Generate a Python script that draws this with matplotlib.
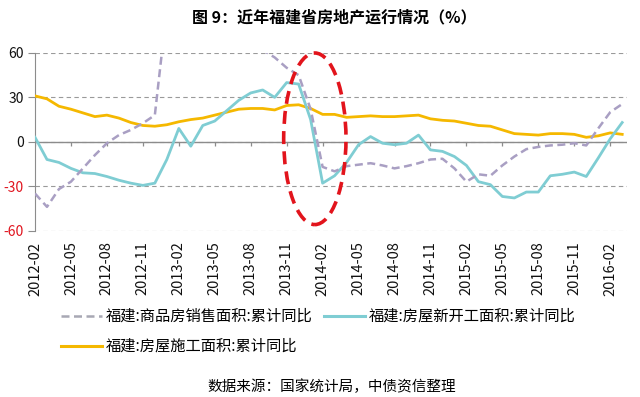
import numpy as np
import matplotlib
matplotlib.use("Agg")
import matplotlib.pyplot as plt
from matplotlib.patches import Ellipse
from matplotlib.lines import Line2D

plt.rcParams['font.family'] = ['Noto Sans CJK SC', 'DejaVu Sans']

# monthly points, 2012-02 .. 2016-03 (%)
sales_area = [-35, -44, -32, -27, -18, -9, -1, 4.5, 8, 12.5,
              18, 90, 100, 105, 98, 92, 85, 78, 72, 62,
              57, 50, 45, 22, -17, -20, -16.5, -15.5, -14.5, -16,
              -18, -16.5, -14.5, -12, -11.5, -18, -27, -22, -23, -16,
              -10, -5, -3.5, -2.5, -2, -1, -2.5, 9, 20, 25.5]
new_start = [3, -12, -14, -18, -21, -21.5, -23.5, -26, -28, -29.5,
             -28, -12, 9, -3, 11, 14, 21, 28, 33, 35,
             30, 40, 39, 15, -28, -23, -14, -2, 3.5, -1,
             -2, -1, 4.5, -5.5, -6.5, -10, -16, -27, -29, -37,
             -38, -34, -34, -23, -22, -20.5, -23.5, -11, 2, 13]
under_constr = [31, 29, 24, 22, 19.5, 17, 18, 16, 13, 11,
                10.5, 11.5, 13.5, 15, 16, 18, 20, 22, 22.5, 22.5,
                21.5, 24.5, 25, 22.5, 18.5, 18.5, 16.5, 17, 17.5, 17,
                17, 17.5, 18, 15.5, 14.5, 14, 12.5, 11, 10.5, 8,
                5.5, 5, 4.5, 5.5, 5.5, 5, 3, 4, 6, 5]

tick_labels = ['2012-02', '2012-05', '2012-08', '2012-11', '2013-02', '2013-05',
               '2013-08', '2013-11', '2014-02', '2014-05', '2014-08', '2014-11',
               '2015-02', '2015-05', '2015-08', '2015-11', '2016-02']
y_ticks = [-60, -30, 0, 30, 60]
y_labels = ['-60', '-30', '0', '30', '60']

names = ['福建:商品房销售面积:累计同比', '福建:房屋新开工面积:累计同比', '福建:房屋施工面积:累计同比']
c_sales, c_new, c_cons = '#A99FC3', '#7FCDD3', '#F5B800'

x = np.arange(len(sales_area))
tick_pos = np.arange(len(tick_labels)) * 3

fig = plt.figure(figsize=(6.4, 3.97), dpi=100)
ax = fig.add_axes([35 / 640, 1 - 230.5 / 397, 592 / 640, 177.5 / 397])

ax.plot(x, under_constr, color=c_cons, lw=2.0, zorder=3)
ax.plot(x, new_start, color=c_new, lw=2.0, zorder=4)
ax.plot(x, sales_area, color=c_sales, lw=1.8, linestyle=(0, (3.2, 1.8)), zorder=5)

ax.set_xlim(0, 49.4)
ax.set_ylim(-60, 60)

# grid and axis look
ax.set_yticks(y_ticks)
ax.set_yticklabels(y_labels, fontsize=10)
for lab, v in zip(ax.get_yticklabels(), y_ticks):
    lab.set_color('#E0141E' if v < 0 else '#111111')
ax.tick_params(axis='y', length=5, color='#8c8c8c', pad=3)
ax.yaxis.grid(True, linestyle=(0, (4, 3)), color='#9a9a9a', lw=0.8)
ax.axhline(0, color='#8c8c8c', lw=1.0, zorder=2)
ax.vlines(tick_pos, -2.6, 0, color='#8c8c8c', lw=0.9, zorder=2)
for s in ['top', 'right', 'bottom']:
    ax.spines[s].set_visible(False)
ax.spines['left'].set_color('#8c8c8c')

ax.set_xticks(tick_pos)
ax.set_xticklabels(tick_labels, rotation=90, fontsize=10.5, color='#111111')
ax.tick_params(axis='x', length=0, pad=8)

# highlight ellipse
ax.add_patch(Ellipse((23.35, 2), width=5.2, height=116, fill=False,
                     edgecolor='#E2141C', lw=2.6, linestyle=(0, (3.6, 2.0)),
                     zorder=6, clip_on=False))

handles = [Line2D([], [], color='#A8A8B4', lw=1.8, linestyle=(0, (3.2, 1.8))),
           Line2D([], [], color=c_cons, lw=2.2),
           Line2D([], [], color=c_new, lw=2.2)]
fig.legend(handles, [names[0], names[2], names[1]], ncol=2, frameon=False,
           loc='upper left', bbox_to_anchor=(61 / 640, 1 - 308 / 397),
           fontsize=11, handlelength=2.7, handletextpad=0.25,
           columnspacing=0.7, labelspacing=0.85, borderpad=0, borderaxespad=0)

fig.text(334 / 640, 1 - 17 / 397, '图 9：近年福建省房地产运行情况（%）',
         ha='center', va='center', fontsize=11.5, fontweight='bold')
fig.text(332 / 640, 1 - 387 / 397, '数据来源：国家统计局，中债资信整理',
         ha='center', va='center', fontsize=10.5)

fig.savefig('out.png', dpi=100)
